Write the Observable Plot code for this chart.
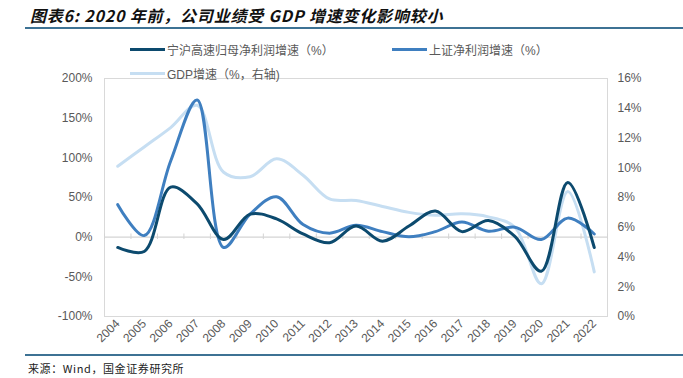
<!DOCTYPE html>
<html><head><meta charset="utf-8">
<script src="https://cdn.jsdelivr.net/npm/d3@7"></script>
<script src="https://cdn.jsdelivr.net/npm/@observablehq/plot@0.6"></script>
<style>
body{margin:0;background:#fff;}
#wrap{position:relative;width:683px;height:378px;overflow:hidden;background:#fff;}
#chart{position:absolute;left:0;top:0;}
#title{position:absolute;left:30px;top:3px;font-family:"Noto Sans CJK SC",sans-serif;font-weight:bold;font-style:italic;font-size:16px;letter-spacing:0.8px;color:#111;white-space:nowrap;}
.rule{position:absolute;left:25px;right:0;height:2px;background:#3d7294;}
#source{position:absolute;left:28px;top:360px;font-family:"Noto Sans CJK SC",sans-serif;font-size:11px;letter-spacing:0.6px;color:#222;white-space:nowrap;}
.leg{position:absolute;display:flex;align-items:center;font-family:"Liberation Sans","Noto Sans CJK SC",sans-serif;font-size:12px;color:#595959;white-space:nowrap;z-index:2;}
.sw{width:35px;height:3px;margin-right:2px;}
</style></head><body>
<div id="wrap">
  <div id="title">图表6: 2020 年前，公司业绩受 GDP 增速变化影响较小</div>
  <div class="rule" style="top:27px"></div>
  <div id="chart"></div>
  <div class="leg" style="left:130px;top:41px"><div class="sw" style="background:#0c4a6e"></div><span>宁沪高速归母净利润增速（%）</span></div>
  <div class="leg" style="left:392px;top:41px"><div class="sw" style="background:#3f7fc0"></div><span>上证净利润增速（%）</span></div>
  <div class="leg" style="left:130px;top:65px"><div class="sw" style="background:#c6def2"></div><span>GDP增速（%，右轴)</span></div>
  <div class="rule" style="top:354px"></div>
  <div id="source">来源：Wind，国金证券研究所</div>
</div>
<script>
const years = [2004,2005,2006,2007,2008,2009,2010,2011,2012,2013,2014,2015,2016,2017,2018,2019,2020,2021,2022];
const ninghu = [-13,-18,63,42,-3,29,23,4,-7,14,-5,14,33,7,21,1,-43,69,-13];
const shangzheng = [41,2,96,173,-13,29,51,16,5,15,7,0.5,7,19,7.5,12.6,-3,24,4];
const gdp = [10.1,11.4,12.7,14.2,9.7,9.4,10.6,9.5,7.9,7.8,7.4,7.0,6.8,6.9,6.7,6.0,2.2,8.4,3.0];
const leftTicks = [-100,-50,0,50,100,150,200];
const rightTicks = [0,2,4,6,8,10,12,14,16];

const L0 = -100, L1 = 200, R1 = 16;
const toLeft = g => L0 + g * (L1 - L0) / R1;
const fromLeft = v => (v - L0) * R1 / (L1 - L0);

const rows = years.map((y, i) => ({year: y, nh: ninghu[i], sz: shangzheng[i], gdp: gdp[i]}));
const bounds = years.map(y => y - 0.5).concat([years[years.length - 1] + 0.5]);

const chart = Plot.plot({
  width: 683, height: 378,
  marginTop: 78, marginBottom: 62, marginLeft: 104, marginRight: 76,
  style: {fontFamily: "Liberation Sans, Arial, sans-serif", fontSize: "12px", color: "#595959", background: "transparent"},
  x: {type: "linear", domain: [years[0] - 0.5, years[years.length - 1] + 0.5]},
  y: {domain: [L0, L1]},
  marks: [
    Plot.frame({stroke: "#d9d9d9"}),
    Plot.ruleY([0], {stroke: "#d4d4d4", strokeWidth: 1.2}),
    Plot.ruleX(bounds, {y1: -3, y2: 4, stroke: "#d4d4d4"}),
    Plot.axisY(leftTicks, {anchor: "left", tickSize: 0, tickPadding: 12, tickFormat: d => d + "%", label: null}),
    Plot.axisY(rightTicks.map(toLeft), {anchor: "right", tickSize: 0, tickPadding: 10, tickFormat: v => Math.round(fromLeft(v)) + "%", label: null}),
    Plot.axisX(years, {anchor: "bottom", tickRotate: -45, tickSize: 0, tickPadding: 5, tickFormat: d => String(d), label: null}),
    Plot.line(rows, {x: "year", y: d => toLeft(d.gdp), stroke: "#c6def2", strokeWidth: 3, curve: "catmull-rom"}),
    Plot.line(rows, {x: "year", y: "sz", stroke: "#3f7fc0", strokeWidth: 3, curve: "catmull-rom"}),
    Plot.line(rows, {x: "year", y: "nh", stroke: "#0c4a6e", strokeWidth: 3, curve: "catmull-rom"})
  ]
});
document.getElementById("chart").appendChild(chart);
</script>
</body></html>
